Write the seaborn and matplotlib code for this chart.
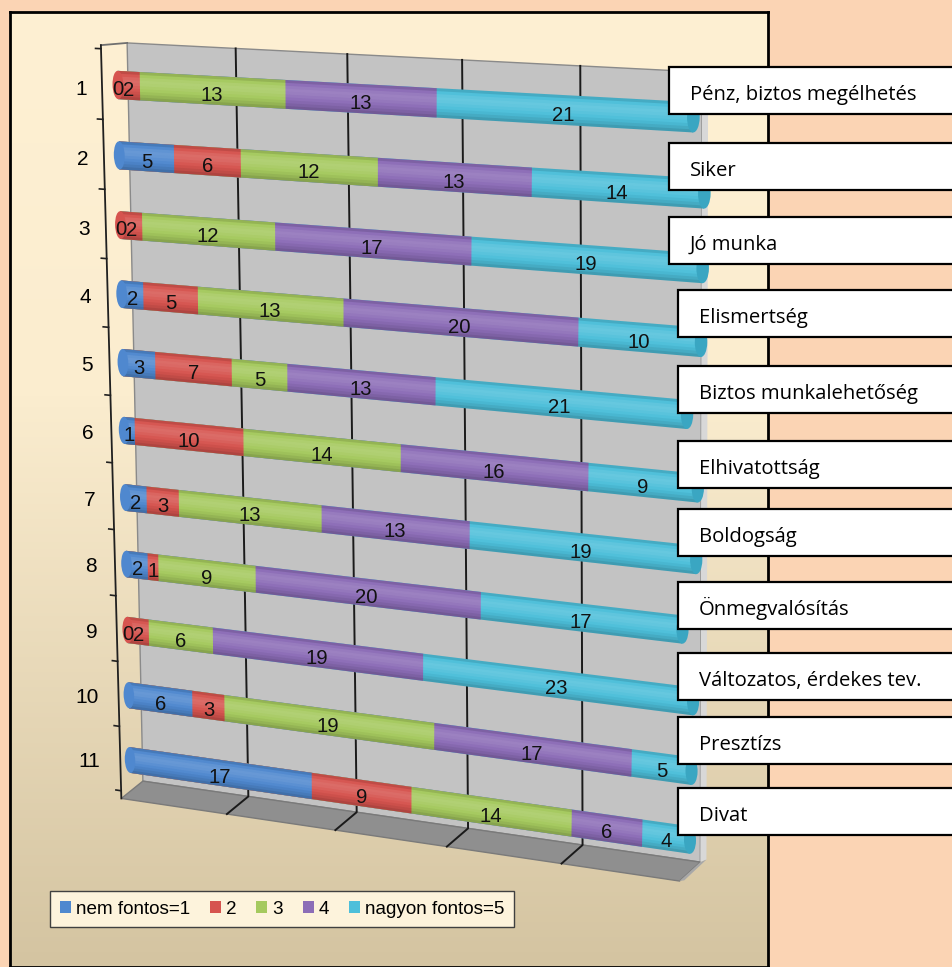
import numpy as np
import pandas as pd
import seaborn as sns
import matplotlib.pyplot as plt
from matplotlib import transforms as mtransforms
from matplotlib.colors import LinearSegmentedColormap
from matplotlib.patches import Polygon, Ellipse, Rectangle, Patch

# rows of the chart, top to bottom
rows = [str(i) for i in range(1, 12)]
motives = ['Pénz, biztos megélhetés', 'Siker', 'Jó munka', 'Elismertség',
           'Biztos munkalehetőség', 'Elhivatottság', 'Boldogság',
           'Önmegvalósítás', 'Változatos, érdekes tev.', 'Presztízs', 'Divat']

# answers per importance level
nem_fontos_1 = [0, 5, 0, 2, 3, 1, 2, 2, 0, 6, 17]
ertek_2 = [2, 6, 2, 5, 7, 10, 3, 1, 2, 3, 9]
ertek_3 = [13, 12, 12, 13, 5, 14, 13, 9, 6, 19, 14]
ertek_4 = [13, 13, 17, 20, 13, 16, 13, 20, 19, 17, 6]
nagyon_fontos_5 = [21, 14, 19, 10, 21, 9, 19, 17, 23, 5, 4]
series_names = ['nem fontos=1', '2', '3', '4', 'nagyon fontos=5']
colors = ['#4F88CF', '#D6544F', '#A5C95E', '#8C6DB7', '#4DBFDA']

W, H = 953, 967


class Perspective(mtransforms.Transform):
    '''Projective map of display coords, fakes the Excel 3D view.'''
    input_dims = output_dims = 2

    def __init__(self, M):
        super().__init__()
        self.M = M

    def transform_non_affine(self, values):
        v = np.atleast_2d(values)
        p = np.column_stack([v, np.ones(len(v))]) @ self.M.T
        return p[:, :2] / p[:, 2:]


fig = plt.figure(figsize=(W / 100, H / 100), dpi=100, facecolor='#FBD4B4')

# chart area with the cream -> tan gradient
bg = fig.add_axes([10 / W, 0, 758 / W, (H - 12) / H])
cmap = LinearSegmentedColormap.from_list('bg', [(0, '#FEF0D3'), (0.4, '#FBEDCF'), (1, '#D4C4A1')])
bg.imshow(np.linspace(0, 1, 256).reshape(-1, 1), cmap=cmap, aspect='auto', extent=[0, 1, 0, 1])
bg.set_xticks([])
bg.set_yticks([])
for s in bg.spines.values():
    s.set_linewidth(2)
    s.set_color('black')

ax = fig.add_axes([0, 0, 1, 1], facecolor='none')

series = np.array([nem_fontos_1, ertek_2, ertek_3, ertek_4, nagyon_fontos_5])
cum = np.cumsum(series, axis=0)
totals = cum[-1]
pos = np.arange(len(rows))

# stacked bars: draw the longest cumulative first
for k in reversed(range(len(series))):
    sns.barplot(x=cum[k], y=rows, orient='h', color=colors[k], width=0.4,
                saturation=1, errorbar=None, ax=ax)

# cylinder shading, thin bands from top to bottom of each bar
shade = [-0.10, 0.02, 0.10, 0.14, 0.12, 0.07, 0.02, -0.04, -0.10, -0.18]
band = 0.4 / len(shade)
for i, a in enumerate(shade):
    ax.barh(pos - 0.2 + band * (i + 0.5), totals, height=band,
            color='white' if a > 0 else 'black', alpha=abs(a), linewidth=0)

ax.set_xlim(-6, 56)
ax.set_ylim(12, -1.5)

src = ax.transData.transform([(0, 0), (50, 0), (0, 10), (50, 10)])
dst = np.array([(118, 85), (706, 118), (130, 760), (690, 840)], float)
dst[:, 1] = H - dst[:, 1]
A, b = [], []
for (x, y), (u, v) in zip(src, dst):
    A.append([x, y, 1, 0, 0, 0, -u * x, -u * y]); b.append(u)
    A.append([0, 0, 0, x, y, 1, -v * x, -v * y]); b.append(v)
M = np.append(np.linalg.solve(np.array(A), np.array(b)), 1).reshape(3, 3)
T = ax.transData + Perspective(M)

for p in ax.patches:
    p.set_transform(T)

# back wall, side strip and floor
wall = [(0.9, -0.6), (49.6, -0.6), (50.9, 10.3), (1.2, 10.3)]
ax.add_patch(Polygon(wall, closed=True, facecolor='#C3C3C3', edgecolor='#8A8A8A',
                     lw=1, transform=T, zorder=0.2))
ax.add_patch(Polygon([(49.6, -0.6), (50.1, -0.5), (51.4, 10.25), (50.9, 10.3)], closed=True,
                     facecolor='#D8D8D8', edgecolor='none', transform=T, zorder=0.25))
floor = [(1.2, 10.3), (50.9, 10.3), (49.2, 10.62), (-0.9, 10.62)]
ax.add_patch(Polygon(floor, closed=True, facecolor='#8F8F8F', edgecolor='#7A7A7A',
                     lw=1, transform=T, zorder=0.3))
ax.add_patch(Polygon([(50.9, 10.3), (51.4, 10.25), (49.6, 10.6), (49.2, 10.62)], closed=True,
                     facecolor='#A8A8A8', edgecolor='none', transform=T, zorder=0.3))

# gridlines at 10, 20, 30, 40
for k in range(1, 5):
    f = k / 5
    xt = wall[0][0] + f * (wall[1][0] - wall[0][0])
    xb = wall[3][0] + f * (wall[2][0] - wall[3][0])
    xf = floor[3][0] + f * (floor[2][0] - floor[3][0])
    ax.plot([xt, xb, xf], [-0.6, 10.3, 10.62], color='#1A1A1A', lw=1.4, transform=T, zorder=0.4)

# value axis with row labels
ax.plot([0.9, -1.5], [-0.6, -0.55], color='#707070', lw=1.3, transform=T, zorder=0.5)
ax.plot([-1.5, -0.9], [-0.55, 10.62], color='#202020', lw=1.3, transform=T, zorder=0.5)
for r in range(len(rows) + 1):
    yt = r - 0.5
    xa = -1.5 + (yt + 0.55) / 11.17 * 0.6
    ax.plot([xa - 0.5, xa], [yt, yt], color='#202020', lw=1.2, transform=T, zorder=0.5)
for r, lab in enumerate(rows):
    ax.text(-2.85, r + 0.09, lab, transform=T, ha='right', va='center',
            fontsize=15, family='Liberation Sans', zorder=3)

# end caps of the cylinders
for r in range(len(rows)):
    first = next(k for k in range(len(series)) if series[k][r] > 0)
    ax.add_patch(Ellipse((0, r), 1.0, 0.4, facecolor=colors[first], edgecolor='none',
                         transform=T, zorder=1.2))
    ax.add_patch(Ellipse((totals[r], r), 1.0, 0.4, facecolor='#3AA6C2', edgecolor='none',
                         transform=T, zorder=1.2))

# segment labels
for k in range(len(series)):
    for r in range(len(rows)):
        v = series[k][r]
        ax.text(cum[k][r] - v / 2, r + 0.07, str(v), transform=T, ha='center', va='center',
                fontsize=14.6, family='Liberation Sans', color='#111111', zorder=3)

ax.set_axis_off()

# the motive boxes on the right
box_tops = [67, 143, 217, 290, 366, 441, 509, 582, 653, 717, 788]
box_lefts = [669] * 3 + [678] * 8
for name, top, left in zip(motives, box_tops, box_lefts):
    fig.add_artist(Rectangle((left / W, 1 - (top + 47) / H), (W + 10 - left) / W, 47 / H,
                             transform=fig.transFigure, facecolor='white', edgecolor='black',
                             lw=1.6, zorder=10))
    fig.text((left + 21) / W, 1 - (top + 33) / H, name, ha='left', va='baseline',
             family='Open Sans', fontsize=14.6, zorder=11)

handles = [Patch(facecolor=c, edgecolor='none') for c in colors]
fig.legend(handles, series_names, loc='center', bbox_to_anchor=((52 + 512) / 2 / W, 1 - 909 / H),
           ncol=5, frameon=True, fancybox=False, edgecolor='#404040', facecolor='#FDF3DC',
           framealpha=1, prop={'family': 'Liberation Sans', 'size': 13.6},
           handlelength=0.6, handleheight=0.6, handletextpad=0.25, columnspacing=1.05,
           borderpad=0.5)

fig.savefig('out.png', dpi=100, facecolor=fig.get_facecolor())
